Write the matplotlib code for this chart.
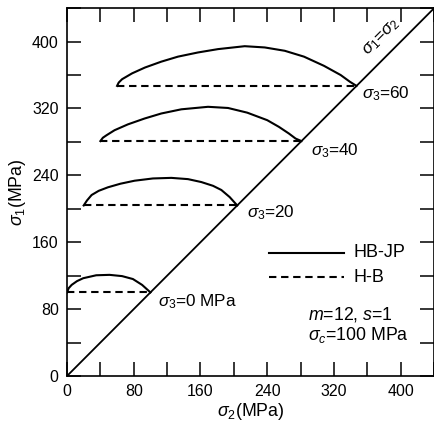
import numpy as np
import matplotlib
matplotlib.use("Agg")
import matplotlib.pyplot as plt
from matplotlib.ticker import MultipleLocator

plt.rcParams['font.family'] = ['Liberation Sans', 'DejaVu Sans']
plt.rcParams['mathtext.fontset'] = 'custom'
plt.rcParams['mathtext.rm'] = 'Liberation Sans'
plt.rcParams['mathtext.it'] = 'Liberation Sans:italic'
plt.rcParams['lines.scale_dashes'] = False

# confining stress levels and H-B strength
sigma3 = [0, 20, 40, 60]
hb_sigma1 = [100, 204, 281, 347]

# HB-JP curves (sigma2, sigma1)
jp_s2 = [
    [0, 2, 5.6, 12, 19.5, 35, 51, 66, 79, 90, 100],
    [20, 24, 29.5, 38, 49, 64, 81, 103, 125, 145, 161, 175, 185, 195, 204],
    [40, 43, 47.4, 57, 73, 93, 113, 137, 169, 193, 216, 240, 254, 266, 274, 281],
    [60, 62, 66, 78, 93.5, 113, 133, 157, 181, 213, 237, 261, 284, 308, 328, 339, 347],
]
jp_s1 = [
    [100, 105, 109, 113.5, 117, 120.5, 121, 119.5, 116, 109, 100],
    [204, 210, 216.5, 221.5, 225.7, 230, 233.6, 236.3, 237, 235.5, 232, 227.5, 222.5, 214, 204],
    [281, 285, 288, 294, 301, 308, 314, 319, 322, 320.6, 315, 306, 298, 290, 284, 281],
    [347, 351, 355, 362, 369, 376, 382, 387, 391, 394.5, 393, 389, 382, 371, 360, 352, 347],
]

diag = [0, 440]
labels = [r'$\sigma_3$=0 MPa', r'$\sigma_3$=20', r'$\sigma_3$=40', r'$\sigma_3$=60']
label_pos = [(109, 89), (216, 196), (292, 269), (353, 338)]

fig = plt.figure(figsize=(4.35, 4.29), dpi=100)
ax = fig.add_axes([0.154, 0.1235, 0.844, 0.8575])

lw = 1.5
dash = (5.3, 3.4)
ax.plot(diag, diag, color='black', lw=1.3)
for i in range(len(sigma3)):
    ax.plot(jp_s2[i], jp_s1[i], color='black', lw=lw)
    ax.plot([sigma3[i], hb_sigma1[i]], [hb_sigma1[i], hb_sigma1[i]],
            color='black', lw=lw, dashes=dash)
    ax.text(label_pos[i][0], label_pos[i][1], labels[i], fontsize=12.3,
            ha='left', va='center')

ax.text(377, 405, r'$\sigma_1$=$\sigma_2$', fontsize=12.3, rotation=45,
        ha='center', va='center')

# legend drawn by hand
ax.plot([242, 332], [147.5, 147.5], color='black', lw=lw)
ax.plot([242, 332], [118, 118], color='black', lw=lw, dashes=dash)
ax.text(343, 147.5, 'HB-JP', fontsize=13, ha='left', va='center')
ax.text(343, 118, 'H-B', fontsize=13, ha='left', va='center')

ax.text(289, 74, r'$m$=12, $s$=1', fontsize=12.8, ha='left', va='center')
ax.text(289, 49, r'$\sigma_c$=100 MPa', fontsize=12.8, ha='left', va='center')

ax.set_xlim(0, 440)
ax.set_ylim(0, 440)
ax.xaxis.set_major_locator(MultipleLocator(80))
ax.yaxis.set_major_locator(MultipleLocator(80))
ax.xaxis.set_minor_locator(MultipleLocator(40))
ax.yaxis.set_minor_locator(MultipleLocator(40))
ax.tick_params(which='both', direction='in', top=True, right=True,
               length=10, width=1.1, labelsize=11.5, pad=6)
for s in ax.spines.values():
    s.set_linewidth(1.2)

ax.set_xlabel(r'$\sigma_2$(MPa)', fontsize=12.8, labelpad=1)
ax.set_ylabel(r'$\sigma_1$(MPa)', fontsize=12.8, labelpad=3)

plt.savefig('out.png', dpi=100)
